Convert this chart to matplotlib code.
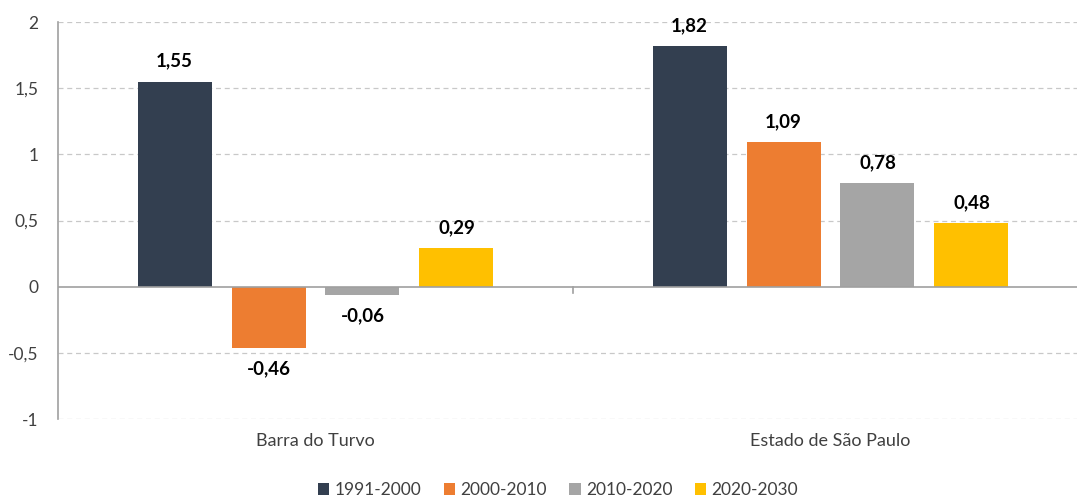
import matplotlib
matplotlib.use("Agg")
from matplotlib import pyplot as plt
from matplotlib import transforms
import numpy as np

plt.rcParams['font.family'] = ['Lato', 'DejaVu Sans']

categories = ['Barra do Turvo', 'Estado de São Paulo']
periods = ['1991-2000', '2000-2010', '2010-2020', '2020-2030']
values = [
    [1.55, 1.82],
    [-0.46, 1.09],
    [-0.06, 0.78],
    [0.29, 0.48],
]
colors = ['#333F50', '#ED7D31', '#A5A5A5', '#FFC000']
yticks = [-1, -0.5, 0, 0.5, 1, 1.5, 2]

W, H = 1077, 497
fig = plt.figure(figsize=(W / 100, H / 100), dpi=100)
# plot area: x 58..1088 px, y 22..419 px
ax = fig.add_axes([58 / W, (H - 419) / H, (1088 - 58) / W, (419 - 22) / H])

x = np.arange(len(categories))
bar_w = 0.1437
pitch = 0.1825
for i, (name, vals, c) in enumerate(zip(periods, values, colors)):
    pos = x + (i - 1.5) * pitch
    ax.bar(pos, vals, bar_w, color=c, label=name, zorder=3)
    for px_, v in zip(pos, vals):
        txt = ('%.2f' % v).replace('.', ',')
        if v >= 0:
            ax.annotate(txt, (px_, v), xytext=(0, 8.5), textcoords='offset points',
                        ha='center', va='bottom', fontsize=13.5, fontweight='bold')
        else:
            ax.annotate(txt, (px_, v), xytext=(0, -9), textcoords='offset points',
                        ha='center', va='top', fontsize=13.5, fontweight='bold')

ax.set_xlim(-0.5, 1.5)
ax.set_ylim(-1, 2)
ax.set_yticks(yticks)
ax.set_yticklabels([('%g' % t).replace('.', ',') for t in yticks], fontsize=12.5, color='#404040')
ax.tick_params(axis='y', length=0, pad=14)
for t in yticks:
    if t != 0:
        ax.axhline(t, color='#C8C8C8', lw=0.9, ls=(0, (4, 3)), zorder=1)
ax.axhline(0, color='#A0A0A0', lw=1.2, zorder=4)

# category boundary tick below zero line
ax.set_xticks([])
ax.plot([0.5, 0.5], [0, -0.05], color='#A0A0A0', lw=1.2, zorder=4)

for s in ['top', 'right', 'bottom']:
    ax.spines[s].set_visible(False)
ax.spines['left'].set_color('#A0A0A0')
ax.spines['left'].set_linewidth(1.2)

trans = transforms.blended_transform_factory(ax.transData, ax.transAxes)
for xi, name in zip(x, categories):
    ax.text(xi, -0.055, name, transform=trans, ha='center', va='center',
            fontsize=13, color='#404040')

fig.legend(loc='center', bbox_to_anchor=(558 / W, 1 - 490 / H), ncol=4,
           frameon=False, fontsize=12.5, handlelength=0.65, handleheight=0.65,
           handletextpad=0.3, columnspacing=1.3, labelcolor='#404040')

fig.savefig('out.png', dpi=100)
